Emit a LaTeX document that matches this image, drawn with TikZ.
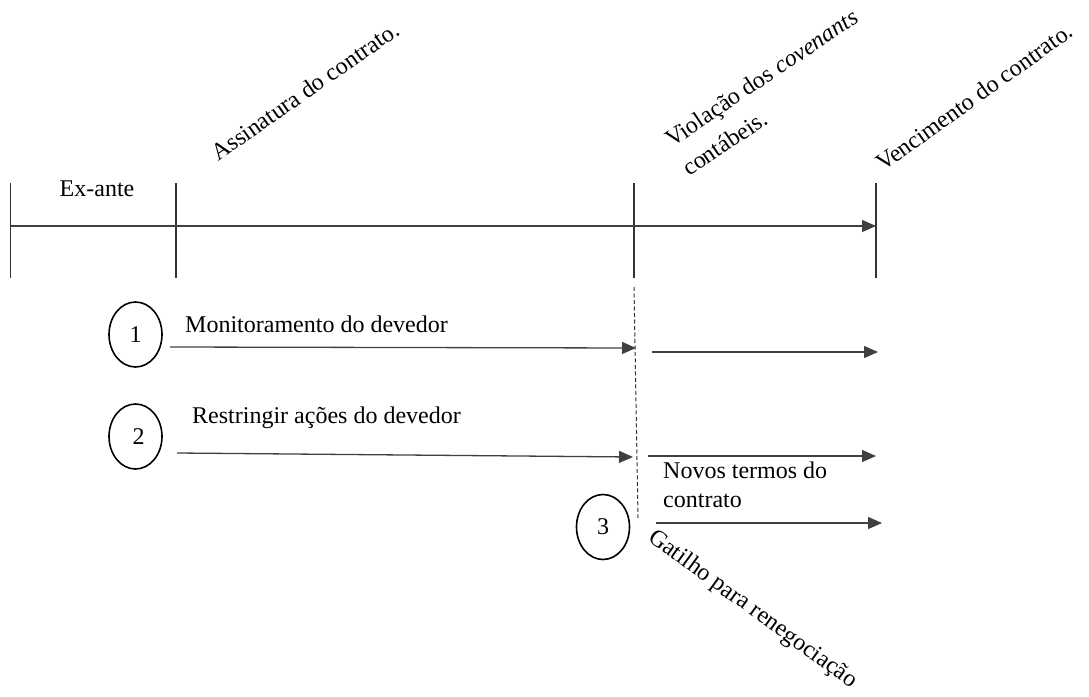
\documentclass[tikz,border=0pt]{standalone}
\usepackage{fontspec}
\setmainfont{Liberation Serif}
\usetikzlibrary{arrows.meta,shapes.geometric}
\begin{document}
\begin{tikzpicture}[x=1pt,y=-1pt,
  every node/.style={font=\fontsize{24}{29}\selectfont, inner sep=0pt},
  tick/.style={line width=1.3pt, draw=black!80},
  flow/.style={line width=1.3pt, draw=black!75, -{Triangle[length=14pt,width=12pt]}},
  num/.style={ellipse, draw, line width=1.6pt, minimum width=53pt, minimum height=65pt, inner sep=0pt},
  rlabel/.style={anchor=base west}
]
\useasboundingbox (0,0) rectangle (1089,696);

% time line
\coordinate (t0) at (10.5,183);
\coordinate (t0b) at (10.5,278);
\coordinate (t1) at (176,183);
\coordinate (t1b) at (176,278);
\coordinate (t2) at (634,183);
\coordinate (t2b) at (634,278);
\coordinate (t3) at (876,183);
\coordinate (t3b) at (876,278);
\draw[tick] (t0) -- (t0b);
\draw[tick] (t1) -- (t1b);
\draw[tick] (t2) -- (t2b);
\draw[tick] (t3) -- (t3b);
\coordinate (ha) at (10.5,226);
\coordinate (hb) at (876,226);
\draw[flow] (ha) -- (hb);

\node[anchor=base] (exante) at (97,196) {Ex-ante};

\node[rlabel, rotate=35] (assin) at (218,162) {Assinatura do contrato.};
\node[rlabel, rotate=34] (viol1) at (672,148) {Violação dos \textit{covenants}};
\node[rlabel, rotate=34] (viol2) at (689,177) {contábeis.};
\node[rlabel, rotate=35.5] (venc) at (883,172) {Vencimento do contrato.};

% dashed trigger line
\coordinate (d0) at (634,287);
\coordinate (d1) at (638,518);
\draw[line width=1pt, draw=black!80, dash pattern=on 4pt off 2.5pt] (d0) -- (d1);

% circles
\node[num] (c1) at (135.5,334.5) {1};
\node[num] (c2) at (135.5,436.5) {\hspace{6pt}2};
\node[num] (c3) at (603,527) {3};

% arrows 1
\coordinate (a1s) at (170,347);
\coordinate (a1e) at (636,348);
\draw[flow] (a1s) -- (a1e);
\node[anchor=base west] (m1) at (185,332) {Monitoramento do devedor};
\coordinate (b1s) at (652,352);
\coordinate (b1e) at (878,352);
\draw[flow] (b1s) -- (b1e);

% arrows 2
\coordinate (a2s) at (177,453);
\coordinate (a2e) at (633,457);
\draw[flow] (a2s) -- (a2e);
\node[anchor=base west] (m2) at (192,423) {Restringir ações do devedor};
\coordinate (b2s) at (648,456);
\coordinate (b2e) at (876,456);
\draw[flow] (b2s) -- (b2e);

% arrow 3
\node[anchor=base west, align=left] (nt1) at (663,478) {Novos termos do};
\node[anchor=base west] (nt2) at (663,507) {contrato};
\coordinate (b3s) at (656,523);
\coordinate (b3e) at (882,523);
\draw[flow] (b3s) -- (b3e);

\node[rlabel, rotate=-36] (gat) at (647,540) {Gatilho para renegociação};
\end{tikzpicture}
\end{document}
